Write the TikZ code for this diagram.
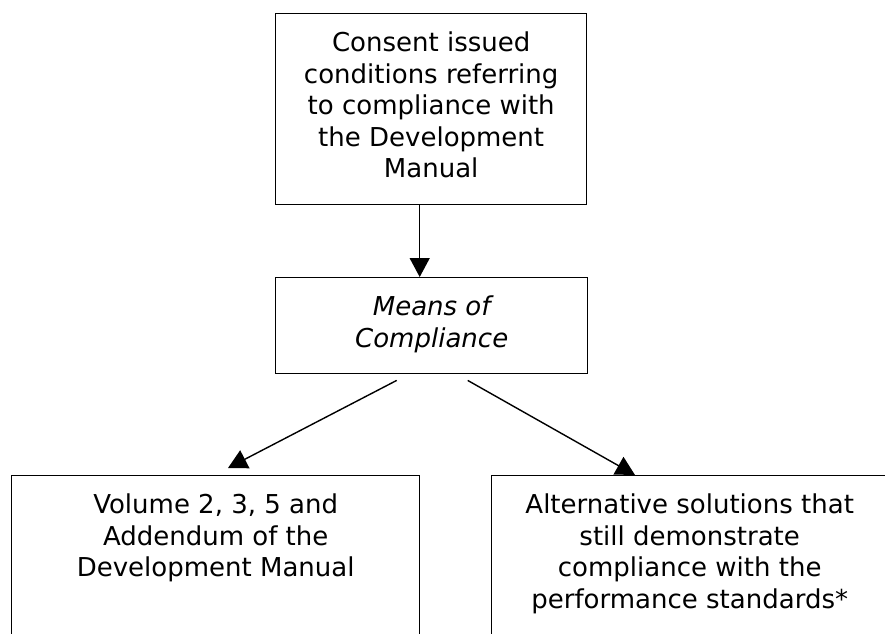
\documentclass[tikz,border=0pt]{standalone}
\usepackage{fontspec}
\setmainfont{DejaVu Sans}
\usetikzlibrary{arrows.meta,positioning,calc}
\begin{document}
\begin{tikzpicture}[x=1pt,y=-1pt,>={Triangle[length=19pt,width=20pt]},
    box/.style={draw=black, line width=1.4pt, inner sep=0pt, anchor=north west},
    boxtext/.style={anchor=north, inner sep=0pt, align=center, font=\fontsize{26}{31.5}\selectfont},
    link/.style={->, line width=1.4pt}]
    \useasboundingbox (0,0) rectangle (885,633);
    \clip (0,0) rectangle (885,633);
    \node[box, minimum width=311pt, minimum height=191pt] (consent) at (275,13) {};
    \node[box, minimum width=312pt, minimum height=96pt] (means) at (275,277) {};
    \node[box, minimum width=408pt, minimum height=240pt] (volume) at (11,475) {};
    \node[box, minimum width=396pt, minimum height=240pt] (altern) at (491,475) {};
    \node[boxtext] (consenttext) at ([yshift=-19pt]consent.north) {Consent issued\\conditions referring\\to compliance with\\the Development\\Manual};
    \node[boxtext] (meanstext) at ([yshift=-19pt]means.north) {\itshape Means of\\\itshape Compliance};
    \node[boxtext] (volumetext) at ([yshift=-19pt]volume.north) {Volume 2, 3, 5 and\\Addendum of the\\Development Manual};
    \node[boxtext] (alterntext) at ([yshift=-19pt]altern.north) {Alternative solutions that\\still demonstrate\\compliance with the\\performance standards*};
    \draw[link] ([xshift=-11.5pt]consent.south) -- ([xshift=-11.5pt]consent.south |- means.north);
    \draw[link] ([xshift=-35pt,yshift=-6pt]means.south) -- ([xshift=217pt,yshift=7pt]volume.north west);
    \draw[link] ([xshift=36pt,yshift=-6pt]means.south) -- ([xshift=144pt]altern.north west);
\end{tikzpicture}
\end{document}
